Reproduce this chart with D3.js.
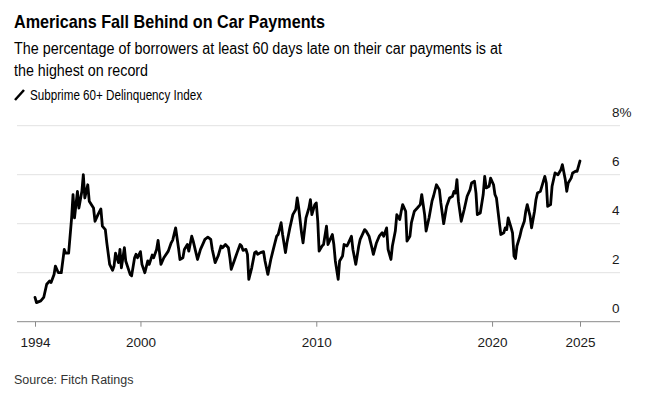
<!doctype html>
<html>
  <head>
    <meta charset="utf-8">
    <title>Americans Fall Behind on Car Payments</title>
    <script src="https://cdn.jsdelivr.net/npm/d3@7"></script>
    <style>
    body {
      margin: 0;
      background: #fff;
    }
    text {
      font-family: "Liberation Sans", Arial, sans-serif;
      fill: #000;
    }
    .title {
      font-size: 18.5px;
      font-weight: bold;
    }
    .subtitle {
      font-size: 16px;
    }
    .legend {
      font-size: 14px;
    }
    .tick-label {
      font-size: 13.5px;
      fill: #1a1a1a;
    }
    .source {
      font-size: 12.5px;
      fill: #333;
    }
    .grid {
      stroke: #e2e2e2;
      stroke-width: 1;
    }
    .baseline {
      stroke: #8a8a8a;
      stroke-width: 1;
    }
    </style>
  </head>
  <body>
    <script>
      var w_svg = 648;
      var h_svg = 406;

      // Subprime 60+ delinquency index, %
      var months = [
        "1994-01","1994-02","1994-05","1994-07","1994-09","1994-11","1994-12",
        "1995-02","1995-03","1995-05","1995-07","1995-09","1995-10","1995-12",
        "1996-02","1996-03","1996-04","1996-05","1996-06","1996-07","1996-09","1996-10","1996-11",
        "1997-01","1997-02","1997-05","1997-06","1997-08","1997-10","1997-11",
        "1998-01","1998-02","1998-04","1998-06","1998-07","1998-08","1998-10","1998-11","1998-12",
        "1999-02","1999-03","1999-06","1999-07","1999-09","1999-10","1999-11",
        "2000-01","2000-02","2000-04","2000-06","2000-07","2000-09","2000-10","2000-12",
        "2001-01","2001-03","2001-05","2001-08","2001-10","2001-11",
        "2002-01","2002-03","2002-04","2002-06","2002-07","2002-09","2002-10","2002-12",
        "2003-01","2003-04","2003-06","2003-08","2003-09","2003-11",
        "2004-01","2004-02","2004-04","2004-06","2004-08","2004-09","2004-11",
        "2005-01","2005-02","2005-03","2005-05","2005-07","2005-09","2005-10","2005-11",
        "2006-01","2006-02","2006-03","2006-05","2006-07","2006-08","2006-09","2006-11",
        "2007-01","2007-02","2007-04","2007-06","2007-08","2007-10","2007-11",
        "2008-01","2008-02","2008-04","2008-05","2008-07","2008-09","2008-11","2008-12",
        "2009-01","2009-03","2009-04","2009-06","2009-08","2009-09","2009-10","2009-12",
        "2010-01","2010-02","2010-03","2010-05","2010-06","2010-08","2010-09","2010-10","2010-12",
        "2011-01","2011-02","2011-04","2011-05","2011-07","2011-08","2011-10","2011-11",
        "2012-01","2012-02","2012-04","2012-06","2012-07","2012-08","2012-10","2012-11",
        "2013-01","2013-03","2013-04","2013-06","2013-08","2013-10","2013-11",
        "2014-01","2014-02","2014-04","2014-05","2014-07","2014-08","2014-10","2014-11","2014-12",
        "2015-02","2015-03","2015-05","2015-06","2015-08","2015-10","2015-12",
        "2016-01","2016-03","2016-04","2016-06","2016-08","2016-09","2016-11",
        "2017-01","2017-02","2017-04","2017-06","2017-08","2017-10","2017-11","2017-12",
        "2018-01","2018-02","2018-04","2018-06","2018-08","2018-10","2018-11",
        "2019-01","2019-02","2019-03","2019-05","2019-07","2019-08","2019-09","2019-11","2019-12",
        "2020-02","2020-03","2020-04","2020-06","2020-07","2020-09","2020-10","2020-11","2020-12",
        "2021-02","2021-03","2021-04","2021-05","2021-06","2021-08","2021-09","2021-11","2021-12",
        "2022-01","2022-03","2022-04","2022-06","2022-07","2022-08","2022-10","2022-12",
        "2023-01","2023-02","2023-03","2023-05","2023-06","2023-08","2023-10","2023-12",
        "2024-01","2024-03","2024-04","2024-05","2024-07","2024-08","2024-10","2024-11",
        "2025-01"
      ];
      var values = [
        0.99,0.78,0.85,0.99,1.53,1.66,1.60,
        1.93,2.27,2.00,2.00,2.95,2.80,2.80,
        4.24,5.19,4.24,4.78,5.32,4.64,5.32,6.00,5.05,
        5.59,4.92,4.64,4.10,4.37,4.60,3.90,
        3.76,3.22,2.34,2.10,2.27,2.80,2.41,2.95,2.20,
        3.02,2.48,1.93,1.87,2.61,2.75,2.61,
        2.86,2.34,2.00,2.48,2.34,2.72,2.61,2.95,
        3.32,2.34,2.61,2.88,3.22,3.33,
        3.83,3.02,2.54,2.61,2.95,3.15,2.88,3.49,
        3.29,2.54,2.95,3.22,3.36,3.45,
        3.36,2.95,2.41,2.68,3.09,3.02,3.15,
        3.02,2.61,2.14,2.48,2.82,3.15,3.09,2.91,
        2.95,2.75,1.73,2.20,2.82,2.86,2.75,2.82,
        2.86,2.48,1.93,2.54,3.02,3.49,3.56,
        4.04,3.56,2.82,3.22,3.83,4.37,4.58,5.05,
        4.64,3.63,3.22,4.24,4.64,4.98,4.37,4.78,
        4.85,4.10,2.88,3.09,3.15,3.90,3.15,3.29,3.56,
        3.15,2.48,1.73,2.48,2.68,3.15,3.09,3.22,
        3.49,2.95,2.34,3.09,3.36,3.49,3.76,3.70,
        3.49,3.02,2.75,3.20,3.49,3.63,3.49,
        3.83,2.95,2.54,3.09,3.70,4.37,4.17,4.51,4.78,
        4.51,3.29,3.49,4.04,4.51,4.64,4.78,
        5.19,4.37,3.70,4.24,4.92,5.12,5.59,
        5.39,4.85,4.00,4.71,5.05,5.12,5.32,5.25,
        5.80,4.92,4.10,4.58,5.12,5.39,5.66,
        5.73,5.25,4.37,4.44,5.19,5.93,5.46,5.53,5.86,
        5.59,5.19,5.05,4.04,3.56,3.63,3.83,3.76,4.24,
        3.83,3.63,2.68,2.58,3.09,3.49,3.76,4.10,4.51,
        4.78,4.31,3.83,4.51,4.98,5.25,5.32,5.73,
        5.93,5.66,4.71,4.78,5.53,6.07,6.00,6.20,
        6.41,5.80,5.32,5.66,5.86,6.07,6.14,6.14,
        6.56
      ];

      var y_ticks = [0, 2, 4, 6, 8];
      var x_ticks = ["1994", "2000", "2010", "2020", "2025"];

      var parseMonth = d3.timeParse("%Y-%m");
      var parseYear = d3.timeParse("%Y");

      var data = months.map(function(m, i) {
        return {date: parseMonth(m), value: values[i]};
      });

      var svg = d3.select("body")
                  .append("svg")
                  .attr("width", w_svg)
                  .attr("height", h_svg);

      // plot frame
      var grid_left = 17, grid_right = 620;

      var x = d3.scaleTime()
                .domain([parseYear("1994"), parseYear("2025")])
                .range([35, 580]);

      var y = d3.scaleLinear()
                .domain([0, 8])
                .range([321.7, 125.7]);

      // header
      svg.append("text")
         .attr("class", "title")
         .attr("x", 14).attr("y", 28)
         .attr("textLength", 311)
         .attr("lengthAdjust", "spacingAndGlyphs")
         .text("Americans Fall Behind on Car Payments");

      svg.append("text")
         .attr("class", "subtitle")
         .attr("x", 14).attr("y", 54)
         .attr("textLength", 488)
         .attr("lengthAdjust", "spacingAndGlyphs")
         .text("The percentage of borrowers at least 60 days late on their car payments is at");

      svg.append("text")
         .attr("class", "subtitle")
         .attr("x", 14).attr("y", 76)
         .attr("textLength", 134)
         .attr("lengthAdjust", "spacingAndGlyphs")
         .text("the highest on record");

      // legend
      svg.append("line")
         .attr("x1", 15).attr("y1", 100)
         .attr("x2", 24).attr("y2", 90)
         .attr("stroke", "#000")
         .attr("stroke-width", 2.5);

      svg.append("text")
         .attr("class", "legend")
         .attr("x", 30).attr("y", 100)
         .attr("textLength", 172)
         .attr("lengthAdjust", "spacingAndGlyphs")
         .text("Subprime 60+ Delinquency Index");

      // gridlines + y labels (labels sit above their line)
      svg.selectAll(".grid")
         .data(y_ticks.filter(function(d) { return d > 0; }))
         .enter().append("line")
         .attr("class", "grid")
         .attr("x1", grid_left).attr("x2", grid_right)
         .attr("y1", function(d) { return y(d); })
         .attr("y2", function(d) { return y(d); });

      svg.selectAll(".ylab")
         .data(y_ticks)
         .enter().append("text")
         .attr("class", "tick-label ylab")
         .attr("x", 612)
         .attr("y", function(d) { return y(d) - 9; })
         .text(function(d) { return d == 8 ? d + "%" : d; });

      // x axis
      var xAxis = d3.axisBottom(x)
                    .tickValues(x_ticks.map(parseYear))
                    .tickSize(5)
                    .tickFormat(d3.timeFormat("%Y"));

      var gx = svg.append("g")
                  .attr("transform", "translate(0," + y(0) + ")")
                  .call(xAxis);

      gx.select(".domain").remove();
      gx.selectAll(".tick line").attr("stroke", "#8a8a8a");
      gx.selectAll(".tick text")
        .attr("class", "tick-label")
        .attr("y", 16)
        .attr("dy", "0.71em")
        .attr("font-family", null)
        .attr("font-size", null)
        .attr("fill", null);
      gx.attr("font-family", null).attr("font-size", null);

      svg.append("line")
         .attr("class", "baseline")
         .attr("x1", grid_left).attr("x2", grid_right)
         .attr("y1", y(0)).attr("y2", y(0));

      // the series
      var line = d3.line()
                   .x(function(d) { return x(d.date); })
                   .y(function(d) { return y(d.value); });

      svg.append("path")
         .datum(data)
         .attr("d", line)
         .attr("fill", "none")
         .attr("stroke", "#000")
         .attr("stroke-width", 2.8)
         .attr("stroke-linejoin", "round")
         .attr("stroke-linecap", "round");

      // footer
      svg.append("text")
         .attr("class", "source")
         .attr("x", 14).attr("y", 384)
         .text("Source: Fitch Ratings");
    </script>
  </body>
</html>
